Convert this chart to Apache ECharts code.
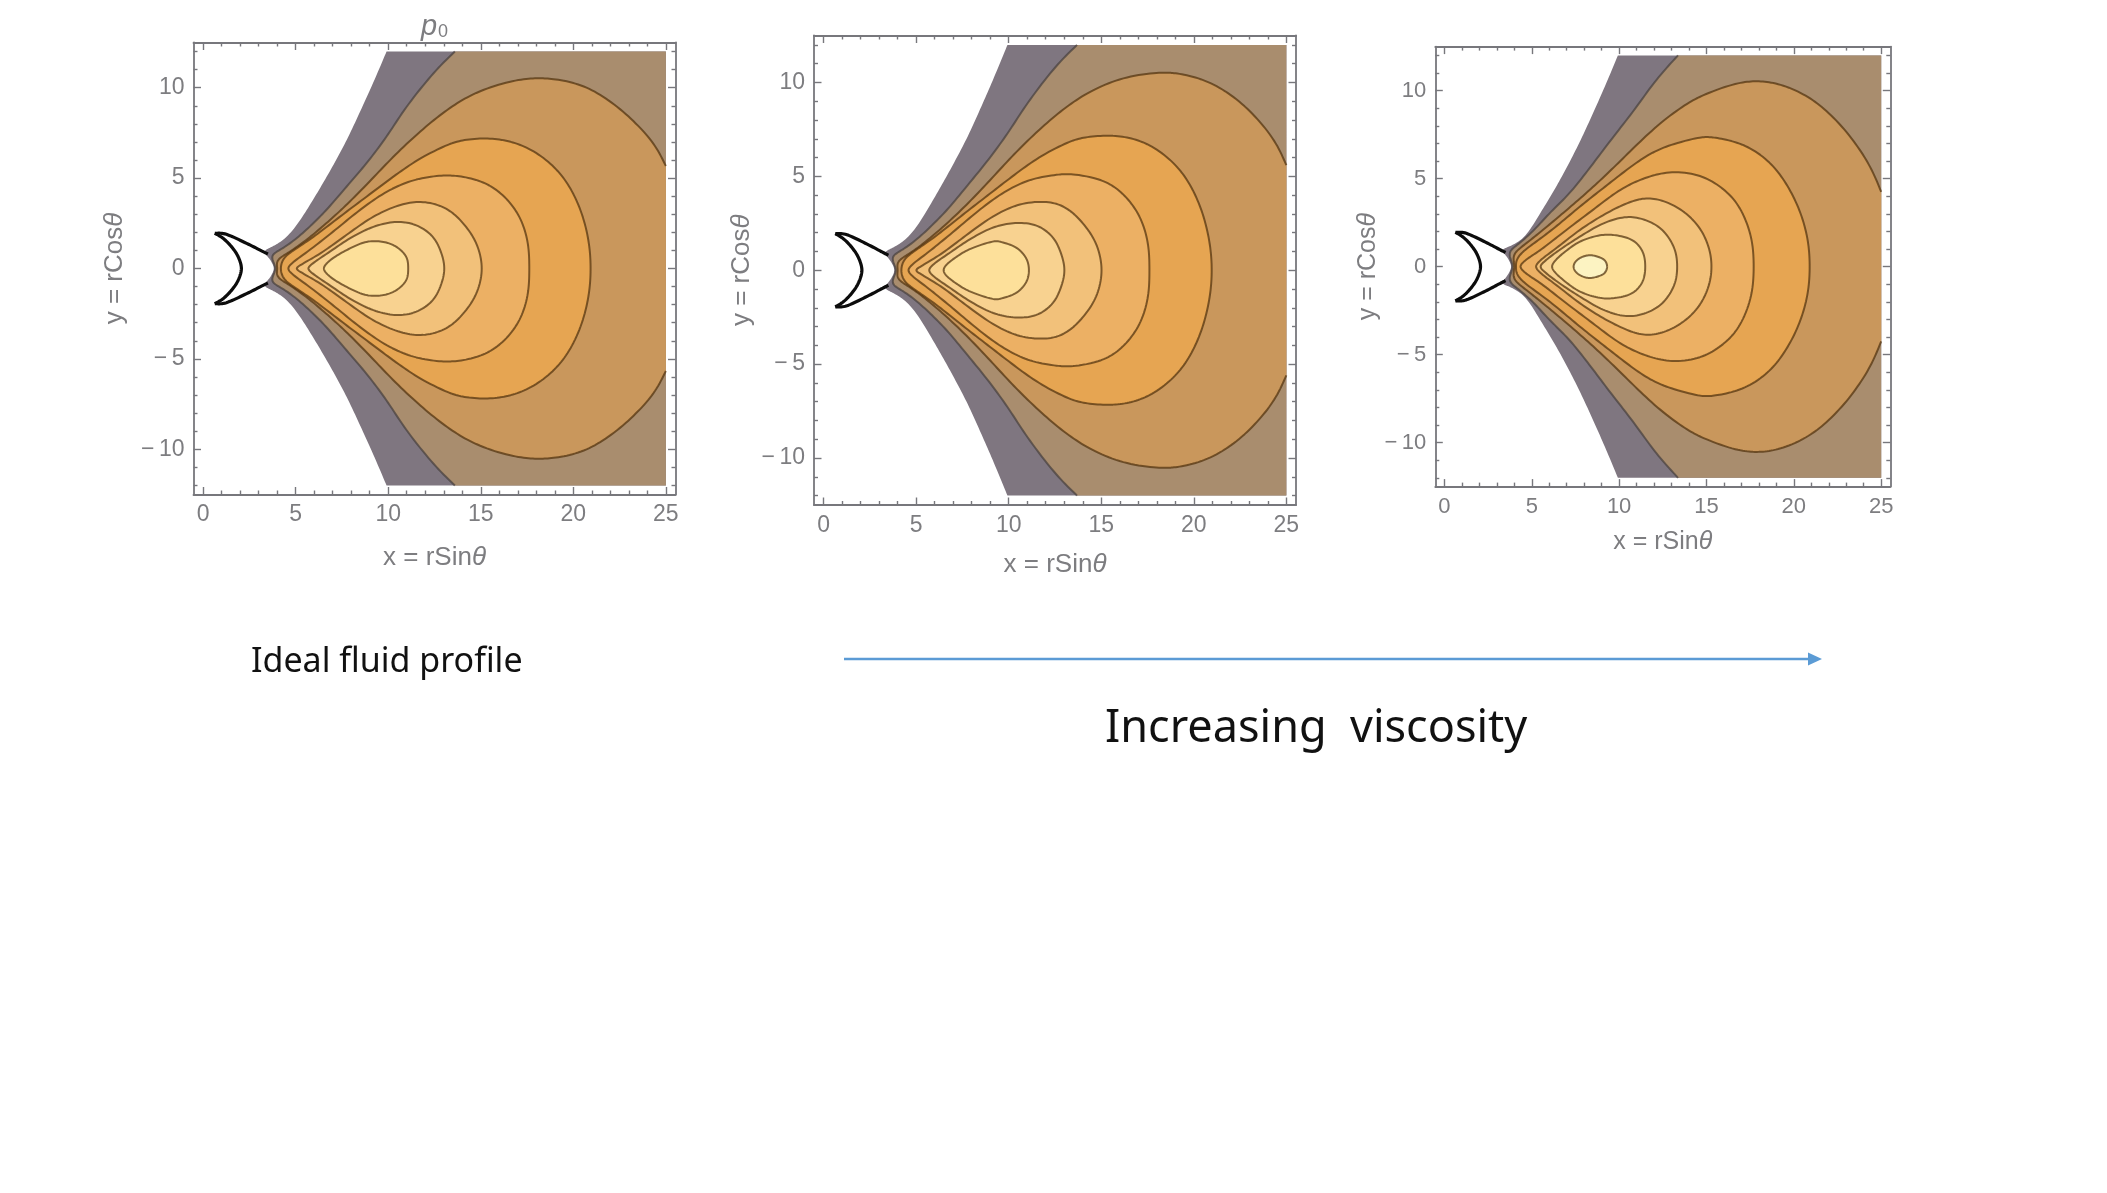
<!DOCTYPE html>
<html><head><meta charset="utf-8">
<style>html,body{margin:0;padding:0;background:#fff}#c{width:2107px;height:1193px}</style>
<script src="https://cdn.jsdelivr.net/npm/echarts@6/dist/echarts.min.js"></script>
</head><body><div id="c"></div>
<script>
// Tick labels
const xMajor = [0,5,10,15,20,25];
const xMinor = [1,2,3,4,6,7,8,9,11,12,13,14,16,17,18,19,21,22,23,24];
const yMajor = [-10,-5,0,5,10];
const yMinor = [-12,-11,-9,-8,-7,-6,-4,-3,-2,-1,1,2,3,4,6,7,8,9,11,12];
const levelColors = ['#7f7680','#a98d6e','#c9975c','#e6a552','#ecb064','#f2c17a','#f8d290','#fde09a','#fcf3c2'];

// Upper half of each contour, from its right end to its tip on y = 0
const p1Gray = [[9.91,12],[9.2,10.3],[8.5,8.72],[7.78,7.15],[7.05,5.75],[6.32,4.45],[5.6,3.24],[4.87,2.13],[4.15,1.39],[3.6,1.17],[3.2,0.98],[3.55,0.6],[3.82,0]];
const p1Tan = [[13.6,12],[12.43,10.79],[10.99,8.95],[9.91,7.29],[8.83,5.82],[7.75,4.53],[6.67,3.24],[5.77,2.32],[4.87,1.5],[4.15,1.03],[3.7,0.72],[3.9,0]];
const p1C3 = [[25,5.67],[24.33,6.92],[23.24,8.21],[21.8,9.41],[20.36,10.24],[18.9,10.5],[17.84,10.57],[16.4,10.33],[14.6,9.69],[13.15,8.77],[11.71,7.57],[10.27,6.19],[9,4.81],[7.75,3.51],[6.67,2.5],[5.59,1.58],[4.69,0.93],[4.05,0.5],[4,0]];
const p1C4 = [[20.94,0],[20.9,1.2],[20.54,2.87],[19.83,4.53],[18.9,5.73],[17.66,6.65],[16.4,7.11],[15.14,7.24],[13.87,7.11],[13.15,6.83],[11.71,6.1],[10.27,5.08],[8.83,3.97],[7.39,2.87],[6.13,1.86],[5.05,1.12],[4.4,0.62],[4.2,0]];
const p1C5 = [[17.62,0],[17.57,1.39],[17.12,2.87],[16.22,4.07],[15.14,4.8],[13.87,5.12],[12.8,5.15],[11.35,4.9],[9.91,4.26],[8.47,3.24],[7.03,2.04],[5.77,1.03],[4.9,0.38],[4.6,0]];
const p1C6 = [[15.08,0],[14.78,1.39],[14.06,2.5],[13.15,3.33],[11.89,3.7],[10.63,3.52],[9.19,2.87],[7.75,1.86],[6.49,0.93],[5.41,0.28],[5.05,0]];
const p1C7 = [[13.05,0],[12.88,0.84],[12.43,1.76],[11.53,2.4],[10.45,2.59],[9.19,2.31],[7.93,1.67],[6.85,0.93],[6.04,0.37],[5.68,0]];
const p1C8 = [[11.08,0],[10.99,0.65],[10.45,1.2],[9.73,1.48],[8.83,1.48],[7.93,1.11],[7.12,0.65],[6.67,0.28],[6.52,0]];

const p2Gray = [[9.93,12],[9.22,10.3],[8.52,8.72],[7.8,7.15],[7.06,5.75],[6.33,4.45],[5.6,3.22],[4.88,2.1],[4.15,1.38],[3.6,1.15],[3.2,0.98],[3.55,0.6],[3.82,0]];
const p2Tan = [[13.69,12],[12.5,10.8],[11.05,8.95],[9.95,7.3],[8.85,5.82],[7.78,4.53],[6.7,3.24],[5.78,2.32],[4.88,1.5],[4.15,1.03],[3.7,0.72],[3.9,0]];
const p2C3 = [[25,5.6],[24.35,6.9],[23.3,8.25],[21.9,9.45],[20.4,10.25],[19,10.52],[18.2,10.56],[16.5,10.35],[14.7,9.7],[13.2,8.78],[11.75,7.58],[10.3,6.2],[9.02,4.82],[7.77,3.52],[6.68,2.5],[5.6,1.58],[4.7,0.93],[4.05,0.5],[4,0]];
const p2C4 = [[20.98,0],[20.92,1.2],[20.55,2.87],[19.85,4.53],[18.92,5.75],[17.68,6.68],[16.42,7.12],[15.15,7.2],[13.9,7.08],[13.2,6.83],[11.75,6.1],[10.3,5.08],[8.85,3.97],[7.4,2.87],[6.14,1.86],[5.05,1.12],[4.4,0.62],[4.2,0]];
const p2C5 = [[17.6,0],[17.55,1.39],[17.1,2.87],[16.2,4.07],[15.1,4.8],[13.5,5.13],[12.7,5.1],[11.3,4.88],[9.88,4.25],[8.45,3.24],[7,2.04],[5.75,1.03],[4.88,0.38],[4.58,0]];
const p2C6 = [[15.04,0],[14.75,1.39],[14.02,2.5],[13.12,3.33],[12.1,3.65],[10.6,3.52],[9.15,2.87],[7.7,1.86],[6.45,0.93],[5.38,0.28],[5,0]];
const p2C7 = [[13.03,0],[12.85,0.84],[12.4,1.76],[11.5,2.4],[10.35,2.52],[9.15,2.28],[7.9,1.65],[6.82,0.93],[6,0.37],[5.7,0]];
const p2C8 = [[11.1,0],[10.95,0.65],[10.4,1.22],[9.6,1.5],[9.15,1.54],[7.88,1.12],[7.08,0.65],[6.62,0.28],[6.48,0]];

const p3Gray = [[9.93,12],[9.26,10.41],[8.5,8.7],[7.73,7.05],[6.96,5.55],[6.2,4.2],[5.43,2.95],[4.67,1.75],[4,1.22],[3.52,1.09],[3.2,0.98],[3.55,0.6],[3.82,0]];
const p3Tan = [[13.37,12],[12.12,10.6],[10.79,8.8],[9.45,7.09],[8.3,5.58],[7.16,4.16],[6,3.02],[5.05,1.98],[4.28,1.31],[3.71,0.84],[3.9,0]];
const p3C3 = [[25,4.25],[24.37,5.67],[23.42,7.19],[22.07,8.7],[20.73,9.75],[19.2,10.41],[17.87,10.6],[16.53,10.41],[14.8,9.75],[13.85,9.27],[12.31,8.13],[10.79,6.71],[9.45,5.39],[8.11,4.16],[6.77,3.02],[5.63,2.07],[4.67,1.31],[4,0.74],[4,0]];
const p3C4 = [[20.92,0],[20.83,1.51],[20.35,3.2],[19.58,4.72],[18.63,5.96],[17.29,6.9],[15.96,7.28],[15,7.41],[14.61,7.37],[13.1,6.98],[11.74,6.43],[10.41,5.48],[9.07,4.44],[7.73,3.4],[6.39,2.26],[5.24,1.41],[4.48,0.84],[4.15,0.4],[4.1,0]];
const p3C5 = [[17.71,0],[17.57,1.7],[16.9,3.4],[15.95,4.44],[14.61,5.2],[12.89,5.39],[11.36,5],[10.02,4.35],[8.49,3.21],[6.96,2.07],[5.63,1.03],[4.77,0.46],[4.35,0]];
const p3C6 = [[15.3,0],[15.19,0.94],[14.71,2.07],[13.85,3.02],[12.71,3.68],[11.55,3.91],[10.41,3.59],[9.07,2.92],[7.73,2.07],[6.39,1.03],[5.63,0.47],[5.24,0]];
const p3C7 = [[13.33,0],[13.18,1.03],[12.51,2.07],[11.55,2.64],[10.41,2.83],[9.07,2.45],[7.73,1.69],[6.58,0.94],[5.82,0.37],[5.5,0]];
const p3C8 = [[11.5,0],[11.36,0.85],[10.79,1.5],[9.83,1.78],[8.88,1.78],[7.73,1.41],[6.77,0.74],[6.29,0.28],[6.16,0]];
const p3C9 = [[9.32,0],[9.17,0.37],[8.78,0.56],[8.3,0.65],[7.82,0.52],[7.5,0.28],[7.39,0]];

// Black crescent outline
const crescentTop = [[0.63,1.95],[1.26,1.89],[2.35,1.39],[3.24,0.93],[3.5,0.8]];
const crescentArc = [[0.63,1.95],[1.08,1.67],[1.53,1.21],[1.89,0.66],[2.07,0]];
const xRange = [-0.52,25.52];
const yRange = [-12.5,12.5];
const regionCorners = [[25,-12],[25,12]];

const frames = [
 {left:193.5,top:42.5,width:482,height:452,font:23,nameFont:26,nameGapX:50,nameGapY:66,title:true,levels:[p1Gray,p1Tan,p1C3,p1C4,p1C5,p1C6,p1C7,p1C8]},
 {left:814,top:35.5,width:482,height:469.5,font:23,nameFont:26,nameGapX:47,nameGapY:59,levels:[p2Gray,p2Tan,p2C3,p2C4,p2C5,p2C6,p2C7,p2C8]},
 {left:1435.3,top:46.6,width:455,height:440,font:22,nameFont:25,nameGapX:43,nameGapY:55,levels:[p3Gray,p3Tan,p3C3,p3C4,p3C5,p3C6,p3C7,p3C8,p3C9]}
];

const FRAME='#77777c', TXT='#7d7d80', FONT='"Liberation Sans"';
function mirrored(upper, closed){
  const low = upper.slice(0,upper.length-1).reverse().map(p=>[p[0],-p[1]]);
  if(closed) low.pop();
  return upper.concat(low);
}
function spline(pts, closed){
  const n=pts.length, out=[];
  const get=i=> closed ? pts[(i+n)%n] : pts[Math.max(0,Math.min(n-1,i))];
  const last = closed ? n : n-1;
  for(let i=0;i<last;i++){
    const a=get(i-1),b=get(i),c=get(i+1),d=get(i+2);
    for(let k=0;k<10;k++){
      const t=k/10,t2=t*t,t3=t2*t;
      out.push([0,1].map(j=>0.5*(2*b[j]+(c[j]-a[j])*t+(2*a[j]-5*b[j]+4*c[j]-d[j])*t2+(3*b[j]-a[j]-3*c[j]+d[j])*t3)));
    }
  }
  if(!closed) out.push(pts[n-1]);
  return out;
}
// Fair the drawn curve: no wobble along its long runs, keep the tip and the ends where they are read
function fair(line, closed){
  const n=line.length, s=[0];
  const d=(i,j)=>Math.hypot(line[i][0]-line[j][0],line[i][1]-line[j][1]);
  for(let i=1;i<n;i++) s.push(s[i-1]+d(i,i-1));
  const total=closed?s[n-1]+d(n-1,0):s[n-1];
  const mid=total/2, out=[];
  for(let i=0;i<n;i++){
    const fromTip=Math.abs(s[i]-mid);
    const fromEnd=closed?1e9:Math.min(s[i],total-s[i]);
    const sig=Math.min(18,total*0.016,1+0.2*fromTip,0.3*fromEnd);
    if(sig<0.3){out.push(line[i]);continue;}
    let wx=0,wy=0,w=0;
    for(let j=0;j<n;j++){
      let ds=Math.abs(s[j]-s[i]);
      if(closed) ds=Math.min(ds,total-ds);
      if(ds>3*sig) continue;
      const g=Math.exp(-ds*ds/(2*sig*sig));
      wx+=g*line[j][0];wy+=g*line[j][1];w+=g;
    }
    out.push([wx/w,wy/w]);
  }
  return out;
}
function contourSeries(i,chain,closed,extra,fill,stroke,symmetric){
  return {type:'custom',xAxisIndex:4*i,yAxisIndex:4*i,silent:true,animation:false,clip:false,
    data:chain,encode:{x:0,y:1},
    renderItem(params,api){
      if(params.dataIndex!==0) return null;
      let line=spline(chain.map(p=>api.coord(p)),closed);
      if(symmetric) line=fair(line,closed);
      if(closed) line=line.concat([line[0]]);
      const kids=[];
      if(fill) kids.push({type:'polygon',shape:{points:line.concat(extra.map(p=>api.coord(p)))},style:{fill:fill,stroke:null}});
      if(stroke) kids.push({type:'polyline',shape:{points:line},style:{fill:null,stroke:stroke.color,lineWidth:stroke.width,lineJoin:'round'}});
      return {type:'group',children:kids};
    }};
}
const grid=[],xAxis=[],yAxis=[],series=[];
frames.forEach((f,i)=>{
  grid.push({left:f.left,top:f.top,width:f.width,height:f.height,containLabel:false});
  const base=(pos,idx,ticks,major,range,extra)=>Object.assign({type:'value',gridIndex:i,position:pos,min:range[0],max:range[1],scale:true,
    splitLine:{show:false},minorTick:{show:false},
    axisLine:{show:major,onZero:false,lineStyle:{color:FRAME,width:1.8}},
    axisTick:{show:true,inside:true,length:major?7.5:4,customValues:ticks,lineStyle:{color:FRAME,width:1.4}},
    axisLabel:{show:false}},extra||{});
  const lab=(vals,fmt,margin)=>({show:true,customValues:vals,color:TXT,fontFamily:FONT,fontSize:f.font,margin:margin,formatter:fmt,hideOverlap:false});
  const rich={a:{fontFamily:FONT,fontSize:f.nameFont,color:TXT},b:{fontFamily:FONT,fontSize:f.nameFont,fontStyle:'italic',color:TXT},
              p:{fontFamily:FONT,fontSize:f.nameFont+3,fontStyle:'italic',color:TXT},s:{fontFamily:FONT,fontSize:f.nameFont-8,color:TXT,padding:[10,0,0,1]}};
  xAxis.push(base('bottom',0,xMajor,true,xRange,{axisLabel:lab(xMajor,v=>String(v),9),name:'{a|x = rSin}{b|θ}',nameLocation:'middle',nameGap:f.nameGapX,nameTextStyle:{rich:rich}}));
  xAxis.push(base('top',1,xMajor,true,xRange,f.title?{name:'{p|p}{s|0}',nameLocation:'middle',nameGap:1,nameTextStyle:{rich:rich}}:{}));
  xAxis.push(base('bottom',2,xMinor,false,xRange));
  xAxis.push(base('top',3,xMinor,false,xRange));
  yAxis.push(base('left',0,yMajor,true,yRange,{axisLabel:lab(yMajor,v=>v<0?'\u2212\u2009'+Math.abs(v):String(v),9),name:'{a|y = rCos}{b|θ}',nameLocation:'middle',nameRotate:90,nameGap:f.nameGapY,nameTextStyle:{rich:rich}}));
  yAxis.push(base('right',1,yMajor,true,yRange));
  yAxis.push(base('left',2,yMinor,false,yRange));
  yAxis.push(base('right',3,yMinor,false,yRange));
  f.levels.forEach((u,k)=>{
    const closed=k>=3;
    const chain=mirrored(u,closed);
    const stroke=k===0?null:{color:k===1?'rgba(70,62,60,0.7)':'rgba(80,50,14,0.72)',width:2};
    series.push(contourSeries(i,chain,closed,k<2?regionCorners:[],levelColors[k],stroke,true));
  });
  const arc=mirrored(crescentArc,false);
  const black={color:'#0c0c0c',width:3.2};
  series.push(contourSeries(i,arc,false,[],null,black,true));
  series.push(contourSeries(i,crescentTop,false,[],null,black,false));
  series.push(contourSeries(i,crescentTop.map(p=>[p[0],-p[1]]),false,[],null,black,false));
});
const chart=echarts.init(document.getElementById('c'),null,{renderer:'canvas'});
chart.setOption({animation:false,backgroundColor:'#ffffff',grid,xAxis,yAxis,series,
  graphic:[
    {type:'text',left:251,top:645,style:{text:'Ideal fluid profile',font:'34px "Noto Sans"',fill:'#111'}},
    {type:'text',left:1105,top:707,style:{text:'Increasing  viscosity',font:'45px "Noto Sans"',fill:'#111'}},
    {type:'line',shape:{x1:844,y1:659,x2:1812,y2:659},style:{stroke:'#5b9bd5',lineWidth:2.5}},
    {type:'polygon',shape:{points:[[1808,652.5],[1822,659],[1808,665.5]]},style:{fill:'#5b9bd5'}}
  ]});
</script></body></html>
